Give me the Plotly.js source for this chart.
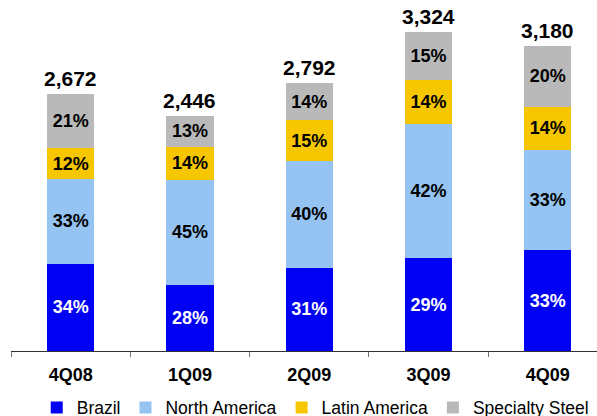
<!DOCTYPE html>
<html>
<head>
<meta charset="utf-8">
<script src="https://cdn.plot.ly/plotly-3.0.1.min.js"></script>
<style>
  html, body { margin: 0; padding: 0; background: #ffffff; }
  #chart { width: 597px; height: 416px; }
</style>
</head>
<body>
<div id="chart"></div>
<script>
// ---- data ----
var quarters = ['4Q08', '1Q09', '2Q09', '3Q09', '4Q09'];
var totals = [2672, 2446, 2792, 3324, 3180];
var pctBrazil = [34, 28, 31, 29, 33];
var pctNorthAmerica = [33, 45, 40, 42, 33];
var pctLatinAmerica = [12, 14, 15, 14, 14];
var pctSpecialty = [21, 13, 14, 15, 20];
var totalLabels = ['2,672', '2,446', '2,792', '3,324', '3,180'];

var seriesNames = ['Brazil', 'North America', 'Latin America', 'Specialty Steel'];
var seriesPcts = [pctBrazil, pctNorthAmerica, pctLatinAmerica, pctSpecialty];
var seriesColors = ['#0000F4', '#95C4F2', '#F6C600', '#B9B9B9'];
var textColors = ['#ffffff', '#000000', '#000000', '#000000'];

var FONT = 'Arial, "Liberation Sans", Helvetica, sans-serif';

var traces = seriesNames.map(function (name, i) {
  var pct = seriesPcts[i];
  return {
    type: 'bar',
    name: name,
    x: quarters,
    y: pct.map(function (p, j) { return totals[j] * p / 100; }),
    text: pct.map(function (p) { return p + '%'; }),
    textposition: 'inside',
    insidetextanchor: 'middle',
    textangle: 0,
    constraintext: 'none',
    textfont: { family: FONT, size: 18, color: textColors[i], weight: 'bold' },
    marker: { color: seriesColors[i], line: { width: 0 } },
    hoverinfo: 'skip'
  };
});

var annotations = quarters.map(function (q, j) {
  return {
    x: q, y: totals[j], xref: 'x', yref: 'y',
    text: totalLabels[j],
    showarrow: false,
    yanchor: 'bottom',
    yshift: 2,
    font: { family: FONT, size: 21, color: '#000000', weight: 'bold' }
  };
});

var layout = {
  width: 597,
  height: 416,
  margin: { l: 11, r: 0, t: 0, b: 65 },
  paper_bgcolor: '#ffffff',
  plot_bgcolor: '#ffffff',
  barmode: 'stack',
  bargap: 0.605,
  showlegend: true,
  legend: {
    orientation: 'h',
    xref: 'container', yref: 'container',
    x: 0.528, xanchor: 'center',
    y: 0.02, yanchor: 'middle',
    font: { family: FONT, size: 17.5, color: '#000000' },
    bgcolor: 'rgba(0,0,0,0)',
    traceorder: 'normal'
  },
  xaxis: {
    type: 'category',
    range: [-0.5, 4.412],
    tickson: 'boundaries',
    ticks: 'outside',
    ticklen: 5,
    tickwidth: 1,
    tickcolor: '#777777',
    showline: true,
    linecolor: '#333333',
    linewidth: 1,
    showgrid: false,
    ticklabelstandoff: 7,
    tickfont: { family: FONT, size: 18, color: '#000000', weight: 'bold' },
    fixedrange: true
  },
  yaxis: {
    range: [0, 3656],
    showgrid: false,
    zeroline: false,
    showline: false,
    showticklabels: false,
    ticks: '',
    fixedrange: true
  },
  annotations: annotations,
  font: { family: FONT }
};

Plotly.newPlot('chart', traces, layout, { displayModeBar: false, staticPlot: true });
</script>
</body>
</html>
